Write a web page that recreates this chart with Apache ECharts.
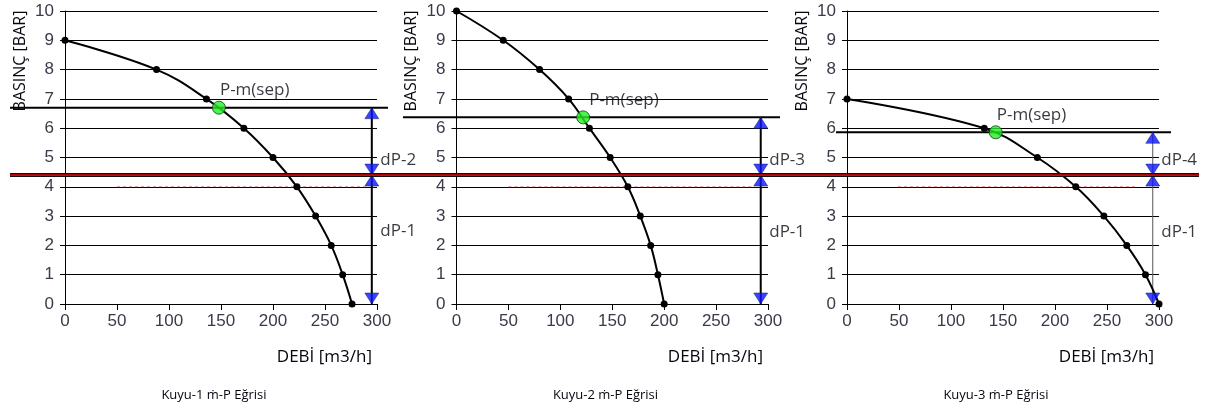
<!DOCTYPE html>
<html>
<head>
<meta charset="utf-8">
<script src="https://cdn.jsdelivr.net/npm/echarts@6/dist/echarts.min.js"></script>
<style>
  html, body { margin: 0; padding: 0; background: #fff; }
  #chart { width: 1207px; height: 412px; }
</style>
</head>
<body>
<div id="chart"></div>
<script>
// egri noktalari (debi m3/h, basinc bar)
const debi1 = [0, 88, 136, 172, 200, 223, 241, 256, 267, 276];
const basinc1 = [9, 8, 7, 6, 5, 4, 3, 2, 1, 0];
const debi2 = [0, 45, 80, 108, 128, 148, 165, 177, 187, 194, 200];
const basinc2 = [10, 9, 8, 7, 6, 5, 4, 3, 2, 1, 0];
const debi3 = [0, 132, 183, 220, 247, 269, 287, 300];
const basinc3 = [7, 6, 5, 4, 3, 2, 1, 0];

// separator noktasi P-m(sep)
const sepDebi = [148, 122, 143];
const sepBasinc = [6.7, 6.37, 5.86];

const ortakBasinc = 4.4;          // kirmizi cizgi
const okDebi = [295, 293, 294];
const dpUstEtiket = ['dP-2', 'dP-3', 'dP-4'];
const dpAltEtiket = ['dP-1', 'dP-1', 'dP-1'];
const dpUstY = [4.9, 4.9, 4.9];
const dpAltY = [2.5, 2.45, 2.45];
const kesikliBas = [50, 50, 49];
const kesikliSon = [288, 286, 280];

const basliklar = ['Kuyu-1 ṁ-P Eğrisi', 'Kuyu-2 ṁ-P Eğrisi', 'Kuyu-3 ṁ-P Eğrisi'];

const curves = [[debi1, basinc1], [debi2, basinc2], [debi3, basinc3]];
const grids = [
  { left: 65, right: 830, top: 11, bottom: 108 },
  { left: 456.5, right: 439, top: 11, bottom: 108 },
  { left: 847, right: 48, top: 11, bottom: 108 }
];
// grafik disina tasan cizgiler icin yardimci alanlar
const overlayGrids = [
  { left: 10, right: 8, top: 11, bottom: 108 },     // kirmizi cizgi
  { left: 10, right: 819, top: 11, bottom: 108 },   // P-m 1
  { left: 403, right: 427, top: 11, bottom: 108 },  // P-m 2
  { left: 836, right: 36, top: 11, bottom: 108 }    // P-m 3
];
const labelDx = [8, 13, 8];

const labelFont = 'Liberation Sans, Arial, sans-serif';
const textFont = 'Open Sans, sans-serif';
const textColor = '#05070f';

const chart = echarts.init(document.getElementById('chart'));

const xAxis = [], yAxis = [], series = [], graphic = [];

grids.forEach((g, i) => {
  xAxis.push({
    gridIndex: i, type: 'value', min: 0, max: 300, interval: 50,
    axisLine: { lineStyle: { color: '#000', width: 1 } },
    axisTick: { show: true, length: 6, lineStyle: { color: '#000' } },
    axisLabel: { color: '#3a3a4a', fontSize: 17, fontFamily: labelFont, margin: 9 },
    splitLine: { show: false }
  });
  yAxis.push({
    gridIndex: i, type: 'value', min: 0, max: 10, interval: 1,
    axisLine: { show: true, lineStyle: { color: '#000', width: 1 } },
    axisTick: { show: true, length: 5, lineStyle: { color: '#000' } },
    axisLabel: { color: '#3a3a4a', fontSize: 17, fontFamily: labelFont, margin: 11 },
    splitLine: { show: true, lineStyle: { color: '#000', width: 1 } }
  });
});
overlayGrids.forEach((g, j) => {
  const idx = grids.length + j;
  xAxis.push({ gridIndex: idx, type: 'value', min: 0, max: 1, show: false });
  yAxis.push({ gridIndex: idx, type: 'value', min: 0, max: 10, show: false });
});

grids.forEach((g, i) => {
  const [xs, ys] = curves[i];
  series.push({
    type: 'line', xAxisIndex: i, yAxisIndex: i,
    data: xs.map((x, k) => [x, ys[k]]),
    smooth: 0.4,
    symbol: 'circle', symbolSize: 7,
    lineStyle: { color: '#000', width: 2 },
    itemStyle: { color: '#000' },
    z: 4
  });
  // y=4 uzerindeki kesikli kirmizi
  series.push({
    type: 'line', xAxisIndex: i, yAxisIndex: i,
    data: [[kesikliBas[i], 4], [kesikliSon[i], 4]],
    symbol: 'none',
    lineStyle: { color: 'rgba(220,60,60,0.7)', width: 1, type: [3, 3] },
    z: 3
  });
  // P-m yatay cizgi
  const ov = grids.length + 1 + i;
  series.push({
    type: 'line', xAxisIndex: ov, yAxisIndex: ov,
    data: [[0, sepBasinc[i]], [1, sepBasinc[i]]],
    symbol: 'none',
    lineStyle: { color: '#000', width: 2 },
    z: 3
  });
  // dikey ok cizgisi
  const thin = i === 2;
  series.push({
    type: 'line', xAxisIndex: i, yAxisIndex: i,
    data: [[okDebi[i], sepBasinc[i]], [okDebi[i], 0]],
    symbol: 'none',
    lineStyle: { color: thin ? '#555' : '#000', width: thin ? 1 : 2 },
    z: 3
  });
  // ok uclari
  series.push({
    type: 'scatter', xAxisIndex: i, yAxisIndex: i,
    data: [[okDebi[i], sepBasinc[i]], [okDebi[i], ortakBasinc]],
    symbol: 'triangle', symbolSize: [14, 11], symbolOffset: [0, '50%'],
    itemStyle: { color: '#0a14ff', borderColor: '#102060', borderWidth: 0.6 },
    z: 6
  });
  series.push({
    type: 'scatter', xAxisIndex: i, yAxisIndex: i,
    data: [[okDebi[i], ortakBasinc], [okDebi[i], 0]],
    symbol: 'triangle', symbolRotate: 180, symbolSize: [14, 11], symbolOffset: [0, '-50%'],
    itemStyle: { color: '#0a14ff', borderColor: '#102060', borderWidth: 0.6 },
    z: 6
  });
  // dP etiketleri
  series.push({
    type: 'scatter', xAxisIndex: i, yAxisIndex: i,
    data: [
      { value: [okDebi[i], dpUstY[i]], name: dpUstEtiket[i] },
      { value: [okDebi[i], dpAltY[i]], name: dpAltEtiket[i] }
    ],
    symbolSize: 1, itemStyle: { color: 'rgba(0,0,0,0)' },
    label: {
      show: true, position: 'right', distance: 8, formatter: '{b}',
      color: textColor, fontSize: 17, fontFamily: textFont
    },
    z: 6
  });
  // separator noktasi
  series.push({
    type: 'scatter', xAxisIndex: i, yAxisIndex: i,
    data: [[sepDebi[i], sepBasinc[i]]],
    symbol: 'circle', symbolSize: 13,
    itemStyle: { color: '#22ee22', borderColor: '#1a3a1a', borderWidth: 1 },
    label: {
      show: true, formatter: 'P-m(sep)', position: [labelDx[i], -19],
      color: textColor, fontSize: 17, fontFamily: textFont
    },
    z: 7
  });

  const gx = g.left;
  const gr = 1207 - g.right;
  graphic.push({
    type: 'text', x: gx - 45, y: 61, rotation: Math.PI / 2,
    style: {
      text: 'BASINÇ [BAR]', fill: textColor, font: '16px ' + textFont,
      textAlign: 'center', textVerticalAlign: 'middle'
    }
  });
  graphic.push({
    type: 'text', x: gr - 5, y: 357,
    style: {
      text: 'DEBİ [m3/h]', fill: textColor, font: '17px ' + textFont,
      textAlign: 'right', textVerticalAlign: 'middle'
    }
  });
  graphic.push({
    type: 'text', x: gx + 149, y: 395,
    style: {
      text: basliklar[i], fill: textColor, font: '13px ' + textFont,
      textAlign: 'center', textVerticalAlign: 'middle'
    }
  });
});

// tum grafikleri kesen kirmizi cizgi
series.push({
  type: 'line', xAxisIndex: 3, yAxisIndex: 3,
  data: [[0, ortakBasinc], [1, ortakBasinc]],
  symbol: 'none', lineStyle: { color: '#111', width: 4 }, z: 8
});
series.push({
  type: 'line', xAxisIndex: 3, yAxisIndex: 3,
  data: [[0, ortakBasinc], [1, ortakBasinc]],
  symbol: 'none', lineStyle: { color: '#e00000', width: 1.6 }, z: 9
});

chart.setOption({
  animation: false,
  grid: grids.concat(overlayGrids),
  xAxis: xAxis,
  yAxis: yAxis,
  series: series,
  graphic: graphic
});
</script>
</body>
</html>
